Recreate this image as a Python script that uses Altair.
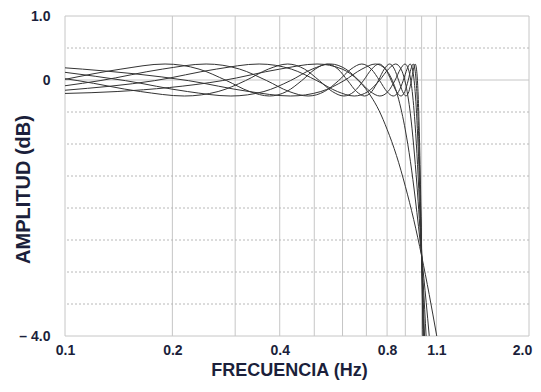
import altair as alt
import pandas as pd

# ---- data (frequency in Hz, amplitude in dB) ----
f_n2 = [0.10, 0.140, 0.276, 0.400, 0.509, 0.599, 0.665, 0.706, 0.720, 0.76, 0.80, 0.85, 0.90, 0.95, 1.00, 1.05, 1.10, 1.11]
db_n2 = [-0.21, -0.18, -0.01, 0.17, 0.25, 0.17, -0.01, -0.18, -0.25, -0.48, -0.77, -1.18, -1.66, -2.18, -2.75, -3.35, -3.97, -4.09]

f_n3 = [0.10, 0.1119, 0.2218, 0.3280, 0.4285, 0.5217, 0.6060, 0.6799, 0.7422, 0.7918, 0.8278, 0.8497, 0.857,
        0.88, 0.90, 0.93, 0.96, 1.00, 1.03, 1.05, 1.06]
db_n3 = [0.19, 0.17, -0.01, -0.18, -0.25, -0.18, -0.01, 0.17, 0.25, 0.17, -0.01, -0.18, -0.25,
         -0.51, -0.78, -1.27, -1.86, -2.75, -3.48, -3.99, -4.25]

f_n4 = [0.10, 0.1785, 0.2656, 0.3502, 0.4313, 0.5083, 0.5805, 0.6470, 0.7073, 0.7608, 0.8070, 0.8453, 0.8756,
        0.8974, 0.9106, 0.915, 0.93, 0.95, 0.97, 1.00, 1.02, 1.03, 1.035]
db_n4 = [-0.16, -0.01, 0.17, 0.25, 0.17, -0.01, -0.18, -0.25, -0.18, -0.01, 0.17, 0.25, 0.17,
         -0.01, -0.18, -0.25, -0.53, -1.03, -1.64, -2.75, -3.59, -4.03, -4.25]

f_n5 = [0.10, 0.1477, 0.2204, 0.2917, 0.3612, 0.4286, 0.4932, 0.5549, 0.6131, 0.6675, 0.7178, 0.7637, 0.8049,
        0.8411, 0.8721, 0.8978, 0.9179, 0.9324, 0.9411, 0.944, 0.955, 0.97, 0.985, 1.00, 1.015, 1.025]
db_n5 = [0.12, -0.01, -0.18, -0.25, -0.18, -0.01, 0.17, 0.25, 0.17, -0.01, -0.18, -0.25, -0.18,
         -0.01, 0.17, 0.25, 0.17, -0.01, -0.18, -0.25, -0.57, -1.15, -1.89, -2.76, -3.73, -4.41]

f_n6 = [0.10, 0.1254, 0.1875, 0.2487, 0.3089, 0.3678, 0.4250, 0.4805, 0.5339, 0.5850, 0.6336, 0.6795, 0.7225,
        0.7624, 0.7990, 0.8323, 0.8619, 0.8879, 0.9100, 0.9283, 0.9425, 0.9528, 0.9589, 0.961,
        0.97, 0.98, 0.99, 1.00, 1.01, 1.02]
db_n6 = [-0.09, -0.01, 0.17, 0.25, 0.17, -0.01, -0.18, -0.25, -0.18, -0.01, 0.17, 0.25, 0.17,
         -0.01, -0.18, -0.25, -0.18, -0.01, 0.17, 0.25, 0.17, -0.01, -0.18, -0.25,
         -0.63, -1.19, -1.90, -2.72, -3.64, -4.61]

f_n7 = [0.10, 0.1087, 0.1627, 0.2161, 0.2688, 0.3207, 0.3716, 0.4213, 0.4696, 0.5166, 0.5618, 0.6054, 0.6470,
        0.6866, 0.7241, 0.7592, 0.7919, 0.8222, 0.8498, 0.8748, 0.8971, 0.9165, 0.9331, 0.9467, 0.9573,
        0.9649, 0.9695, 0.971, 0.98, 0.99, 1.00, 1.01, 1.015]
db_n7 = [0.02, -0.01, -0.18, -0.25, -0.18, -0.01, 0.17, 0.25, 0.17, -0.01, -0.18, -0.25, -0.18,
         -0.01, 0.17, 0.25, 0.17, -0.01, -0.18, -0.25, -0.18, -0.01, 0.17, 0.25, 0.17,
         -0.01, -0.18, -0.25, -0.79, -1.65, -2.73, -3.99, -4.65]

f_n8 = [0.10, 0.1435, 0.1908, 0.2376, 0.2839, 0.3295, 0.3743, 0.4182, 0.4610, 0.5028, 0.5433, 0.5826, 0.6204,
        0.6568, 0.6916, 0.7247, 0.7560, 0.7855, 0.8132, 0.8389, 0.8625, 0.8841, 0.9036, 0.9208, 0.9359,
        0.9487, 0.9592, 0.9674, 0.9733, 0.9768, 0.978, 0.985, 0.99, 0.995, 1.00, 1.005, 1.01]
db_n8 = [0.01, 0.17, 0.25, 0.17, -0.01, -0.18, -0.25, -0.18, -0.01, 0.17, 0.25, 0.17, -0.01,
         -0.18, -0.25, -0.18, -0.01, 0.17, 0.25, 0.17, -0.01, -0.18, -0.25, -0.18, -0.01,
         0.17, 0.25, 0.17, -0.01, -0.18, -0.25, -0.80, -1.32, -1.96, -2.68, -3.48, -4.33]

curve_names = ["n2", "n3", "n4", "n5", "n6", "n7", "n8"]
curve_f = [f_n2, f_n3, f_n4, f_n5, f_n6, f_n7, f_n8]
curve_db = [db_n2, db_n3, db_n4, db_n5, db_n6, db_n7, db_n8]

x_grid = [0.1, 0.2, 0.3, 0.4, 0.5, 0.6, 0.7, 0.8, 0.9, 1.0, 1.1, 2.0]
x_ticks = [0.1, 0.2, 0.4, 0.8, 1.1, 2.0]
y_dashed = [0.5, -0.5, -1.0, -1.5, -2.0, -2.5, -3.0, -3.5]
y_solid = [1.0, 0.0, -4.0]
y_ticks = [1.0, 0.0, -4.0]

rows = []
for name, fs, ds in zip(curve_names, curve_f, curve_db):
    for i, (fv, dv) in enumerate(zip(fs, ds)):
        rows.append({"curve": name, "i": i, "f": fv, "db": dv})
df = pd.DataFrame(rows)

FONT = "Liberation Sans"
TXT = "#1b1f3b"

x_scale = alt.Scale(type="log", domain=[0.1, 2.0], nice=False)
y_scale = alt.Scale(domain=[-4.0, 1.0], nice=False, zero=False)

x_axis = alt.Axis(
    values=x_ticks, format=".1f", title="FRECUENCIA (Hz)", grid=False, domain=False,
    ticks=False, labelFont=FONT, labelFontSize=14, labelFontWeight="bold", labelColor=TXT,
    labelPadding=7, labelFlush=False, labelOverlap=False,
    labelOffset={"condition": {"test": "datum.value >= 2", "value": -7}, "value": 0},
    titleFont=FONT, titleFontSize=18, titleFontWeight="bold", titleColor=TXT,
    titleX=224, titleY=34, titleBaseline="middle", titleAlign="center")

y_axis = alt.Axis(
    values=y_ticks,
    labelExpr="datum.value == 1 ? '1.0' : (datum.value == 0 ? '0' : '\u2013 4.0')",
    title="AMPLITUD (dB)", grid=False, domain=False, ticks=False,
    labelFont=FONT, labelFontSize=14, labelFontWeight="bold", labelColor=TXT,
    labelPadding=15, labelFlush=False, labelOverlap=False,
    titleFont=FONT, titleFontSize=20, titleFontWeight="bold", titleColor=TXT,
    titleX=-42, titleY=173, titleBaseline="middle", titleAlign="center", titleAngle=270)

vgrid = alt.Chart(pd.DataFrame({"f": x_grid})).mark_rule(
    color="#c6c6c6", strokeWidth=1
).encode(x=alt.X("f:Q", scale=x_scale, axis=x_axis))

hdash = alt.Chart(pd.DataFrame({"db": y_dashed})).mark_rule(
    color="#b8b8b8", strokeWidth=1, strokeDash=[2, 2]
).encode(y=alt.Y("db:Q", scale=y_scale, axis=y_axis))

hsolid = alt.Chart(pd.DataFrame({"db": y_solid})).mark_rule(
    color="#c6c6c6", strokeWidth=1
).encode(y=alt.Y("db:Q", scale=y_scale, axis=y_axis))

lines = alt.Chart(df).mark_line(
    color="#333333", strokeWidth=1, interpolate="monotone", clip=True
).encode(
    x=alt.X("f:Q", scale=x_scale, axis=x_axis),
    y=alt.Y("db:Q", scale=y_scale, axis=y_axis),
    detail="curve:N",
    order="i:Q",
)

chart = alt.layer(vgrid, hdash, hsolid, lines).properties(
    width=464, height=320,
    autosize=alt.AutoSizeParams(type="none"),
    padding={"left": 57, "top": 8, "right": 4, "bottom": 44},
    background="white",
).configure_view(stroke=None)

chart.save("out.html", embed_options={"renderer": "svg", "actions": False})
